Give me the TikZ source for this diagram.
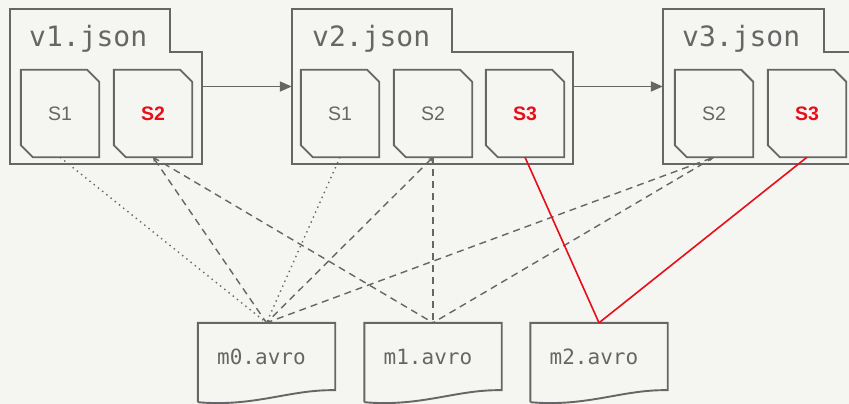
\documentclass[tikz,border=0pt]{standalone}
\usepackage{fontspec}
\setmainfont{Liberation Sans}
\newfontfamily\codefont{DejaVu Sans Mono}
\usetikzlibrary{arrows.meta}
\definecolor{bg}{RGB}{245,245,241}
\definecolor{ink}{RGB}{102,102,102}
\definecolor{hot}{RGB}{232,14,24}

% chamfered snapshot sheet drawn round a named node
\newcommand\chamfersheet[1]{%
  \draw[outline] ([xshift=-12pt]#1.north east) -- ([yshift=-12pt]#1.north east)
    -- (#1.south east) -- ([xshift=12pt]#1.south west)
    -- ([yshift=12pt]#1.south west) -- (#1.north west) -- cycle;}
% manifest document with a wavy bottom edge
\newcommand\wavesheet[1]{%
  \draw[outline] (#1.south west) -- (#1.north west) -- (#1.north east)
    -- ([yshift=12pt]#1.south east)
    .. controls ([xshift=-45pt,yshift=13pt]#1.south east)
    and ([xshift=57pt,yshift=-5pt]#1.south west) .. (#1.south west);}
% folder outline with a tab on the upper left
\newcommand\foldershape[2]{%
  \draw[outline] (#1.north west) -- ++(#2,0) -- ++(0,43) -| (#1.south east)
    -- (#1.south west) -- cycle;}

\begin{document}
\begin{tikzpicture}[x=1pt,y=-1pt,
  outline/.style={draw=ink,line width=1.9pt,line join=miter},
  folder/.style={minimum width=192pt,minimum height=155pt,inner sep=0pt},
  sheet/.style={minimum width=78pt,minimum height=87pt,inner sep=0pt,
    text=ink,font=\fontsize{19.5}{22}\selectfont},
  hotsheet/.style={sheet,text=hot,font=\fontsize{19.5}{22}\selectfont\bfseries},
  manifest/.style={minimum width=137pt,minimum height=79pt,inner sep=0pt},
  title/.style={anchor=base west,inner sep=0pt,text=ink,
    font=\codefont\fontsize{28}{30}\selectfont},
  mname/.style={anchor=base west,inner sep=0pt,text=ink,
    font=\codefont\fontsize{21}{24}\selectfont},
  link/.style={draw=ink,line width=1.4pt},
  tiplink/.style={link,{Stealth[length=5pt,width=4.5pt]}-},
  dashedlink/.style={link,dash pattern=on 7pt off 5pt},
  dottedlink/.style={link,dash pattern=on 1.4pt off 4pt},
  redlink/.style={draw=hot,line width=1.6pt},
  flow/.style={draw=ink,line width=1.8pt,-{Triangle[length=12pt,width=10pt]}}]

\fill[bg] (0,0) rectangle (849,404);
\useasboundingbox (0,0) rectangle (849,404);

% table metadata folders
\node[folder] (v1) at (106,86.5) {};
\node[folder,minimum width=281pt] (v2) at (432.5,86.5) {};
\node[folder,minimum width=193pt] (v3) at (759.5,86.5) {};
\foldershape{v1}{160}
\foldershape{v2}{160}
\foldershape{v3}{161}
\node[title] (v1t) at (29,47) {v1.json};
\node[title] (v2t) at (312,47) {v2.json};
\node[title] (v3t) at (682,47) {v3.json};

% snapshots
\node[sheet]    (v1s1) at (60,113.5)  {S1};
\node[hotsheet] (v1s2) at (153,113.5) {S2};
\node[sheet]    (v2s1) at (340,113.5) {S1};
\node[sheet]    (v2s2) at (433,113.5) {S2};
\node[hotsheet] (v2s3) at (525,113.5) {S3};
\node[sheet]    (v3s2) at (714,113.5) {S2};
\node[hotsheet] (v3s3) at (807,113.5) {S3};
\foreach \s in {v1s1,v1s2,v2s1,v2s2,v2s3,v3s2,v3s3} {\chamfersheet{\s}}

% manifests
\node[manifest] (m0) at (266.5,362.5) {};
\node[manifest] (m1) at (433,362.5) {};
\node[manifest] (m2) at (599,362.5) {};
\foreach \m in {m0,m1,m2} {\wavesheet{\m}}
\node[mname] (m0t) at (217,364) {m0.avro};
\node[mname] (m1t) at (383.5,364) {m1.avro};
\node[mname] (m2t) at (549.5,364) {m2.avro};

% version history
\draw[flow] (v1.east) -- (v2.west);
\draw[flow] (v2.east) -- (v3.west);

% snapshot to manifest references
\draw[dottedlink] (v1s1.south) -- (m0.north);
\draw[dottedlink] (v2s1.south) -- (m0.north);
\draw[dashedlink,tiplink] (v1s2.south) -- (m0.north);
\draw[dashedlink] (v1s2.south) -- (m1.north);
\draw[dashedlink,tiplink] (v2s2.south) -- (m0.north);
\draw[dashedlink] (v2s2.south) -- (m1.north);
\draw[dashedlink,tiplink] (v3s2.south) -- (m0.north);
\draw[dashedlink] (v3s2.south) -- (m1.north);
\draw[redlink] (v2s3.south) -- (m2.north);
\draw[redlink] (v3s3.south) -- (m2.north);
\end{tikzpicture}
\end{document}
